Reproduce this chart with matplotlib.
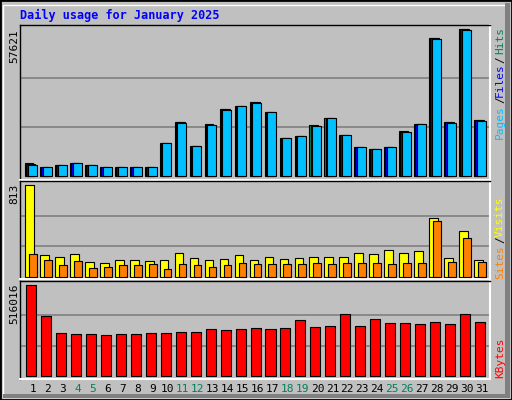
import matplotlib
matplotlib.use("Agg")
import matplotlib.pyplot as plt
from matplotlib.patches import Rectangle

days = list(range(1, 32))
hits = [5100,3530,4310,5100,4310,3530,3530,3530,3530,12940,21170,11760,20380,26260,27440,29010,
        25090,14900,15680,19990,22740,16070,11370,10580,11370,17640,20380,54100,21170,57621,21950]
files = [4700,3450,4250,5000,4250,3450,3450,3450,3450,12850,21050,11700,19900,26150,27350,28900,
         25000,14800,15600,19600,22650,15950,11300,10500,11300,17200,20300,53950,21050,57500,21850]
pages = [4500,3400,4200,4950,4200,3400,3400,3400,3400,12800,20950,11650,19800,26050,27250,28800,
         24900,14750,15550,19500,22550,15900,11250,10450,11250,17100,20200,53850,20950,57400,21750]
visits = [813,197,179,205,135,126,153,153,144,153,214,170,153,161,197,153,179,161,170,179,179,179,
          214,205,241,214,232,522,170,408,153]
sites = [205,153,100,144,82,91,100,100,109,73,117,100,91,100,126,109,117,109,109,126,109,126,126,
         126,109,126,126,496,135,346,135]
kbytes = [516016,340800,244800,239100,239100,233500,239100,239100,244800,244800,250400,250400,
          267400,261700,267400,273000,267400,273000,318200,278700,284300,352100,284300,323900,
          301300,301300,295600,306900,295600,352100,306900]
weekend_days = [4, 5, 11, 12, 18, 19, 25, 26]
title = "Daily usage for January 2025"

W, H = 512, 400
fig = plt.figure(figsize=(W/100, H/100), dpi=100)
fig.patch.set_facecolor("#c0c0c0")
# 3D border
fig.add_artist(Rectangle((0, 0), 1, 1, transform=fig.transFigure, fill=False, edgecolor="black", lw=2))
fig.add_artist(Rectangle((3/W, 3/H), (W-8)/W, (H-8)/H, transform=fig.transFigure, fill=False, edgecolor="white", lw=1))
fig.add_artist(Rectangle(((W-7)/W, 3/H), 5/W, (H-6)/H, transform=fig.transFigure, color="#808080", lw=0))
fig.add_artist(Rectangle((3/W, 2/H), (W-5)/W, 4/H, transform=fig.transFigure, color="#808080", lw=0))

def ax_at(top, bottom, left=20, right=490):
    return fig.add_axes([left/W, 1-bottom/H, (right-left)/W, (bottom-top)/H])

mono = dict(family="DejaVu Sans Mono")
XL = (0.13, 31.53)

def style(ax, ymin, ymax, vmax):
    ax.set_facecolor("#c0c0c0")
    ax.set_xlim(*XL); ax.set_ylim(ymin, ymax)
    ax.set_xticks([]); ax.set_yticks([])
    for s in ax.spines.values():
        s.set_color("black"); s.set_linewidth(1)
    ax.spines["right"].set_color("white"); ax.spines["bottom"].set_color("white")
    ax.spines["right"].set_linewidth(1.5); ax.spines["bottom"].set_linewidth(1.5)
    for f in (1/3, 2/3):
        ax.axhline(vmax*f, color="#808080", lw=1.2, zorder=0)

a1 = ax_at(25, 180)
style(a1, -1570, 59190, 57621)
a1.bar([d-0.53 for d in days], hits, width=0.55, align="edge", color="#00805c", edgecolor="black", lw=0.8, zorder=2)
a1.bar([d-0.46 for d in days], files, width=0.6, align="edge", color="#0000ff", edgecolor="black", lw=0.8, zorder=3)
a1.bar([d-0.35 for d in days], pages, width=0.6, align="edge", color="#00c0ff", edgecolor="black", lw=0.8, zorder=4)

a2 = ax_at(181, 279)
style(a2, -20, 851, 813)
a2.bar([d-0.53 for d in days], visits, width=0.58, align="edge", color="#ffff00", edgecolor="black", lw=0.8, zorder=2)
a2.bar([d-0.27 for d in days], sites, width=0.52, align="edge", color="#ff8000", edgecolor="black", lw=0.8, zorder=3)

a3 = ax_at(281, 379)
style(a3, -18600, 540300, 516016)
a3.bar([d-0.47 for d in days], kbytes, width=0.67, align="edge", color="#ff0000", edgecolor="black", lw=0.8, zorder=2)

fs = 8
fig.text(20/W, 1-15/H, title, color="#0000ff", fontsize=8.5, fontweight="bold", va="center", ha="left", **mono)
fig.text(14/W, 1-29/H, str(max(hits)), rotation=90, fontsize=fs, va="top", ha="center", **mono)
fig.text(14/W, 1-184/H, str(max(visits)), rotation=90, fontsize=fs, va="top", ha="center", **mono)
fig.text(14/W, 1-284/H, str(max(kbytes)), rotation=90, fontsize=fs, va="top", ha="center", **mono)

def rtext(y, s, c):
    fig.text(500/W, 1-y/H, s, rotation=90, fontsize=fs, color=c, va="center", ha="center", **mono)
rtext(122, "Pages", "#00c0ff"); rtext(100, "/", "black"); rtext(80, "Files", "#0000ff")
rtext(60, "/", "black"); rtext(41, "Hits", "#00805c")
rtext(262, "Sites", "#ff8000"); rtext(240, "/", "black"); rtext(217, "Visits", "#ffff00")
rtext(358, "KBytes", "#ff0000")

for d in days:
    x = 20 + (d - XL[0]) * 470 / (XL[1] - XL[0])
    fig.text(x/W, 1-389/H, str(d), fontsize=fs, ha="center", va="center",
             color="#00805c" if d in weekend_days else "black", **mono)

fig.savefig("out.png", dpi=100, facecolor=fig.get_facecolor())
